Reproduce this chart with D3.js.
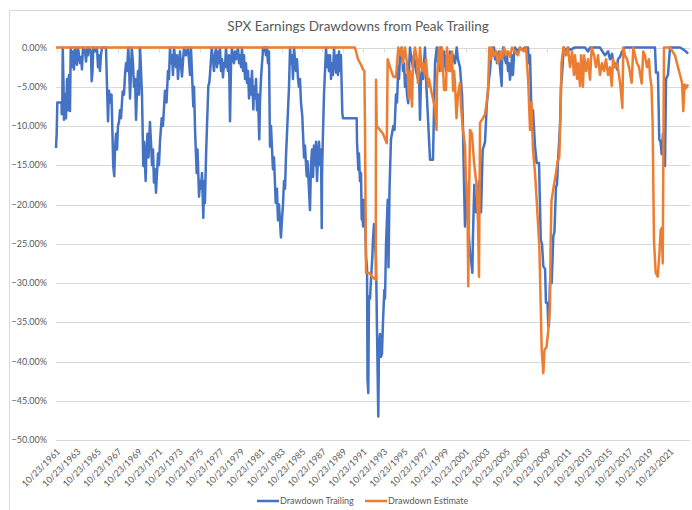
<!DOCTYPE html>
<html>
<head>
<meta charset="utf-8">
<script src="https://cdnjs.cloudflare.com/ajax/libs/d3/7.8.5/d3.min.js"></script>
<style>
  body { margin: 0; background: #fff; }
  svg { display: block; font-family: Lato, "Open Sans", sans-serif; }
</style>
</head>
<body>
<div id="chart"></div>
<script>
// values: [decimal year, drawdown %]
var trailing = [
  [1961.75,-12.8],[1961.82,-10.9],[1961.88,-7.0],[1962.29,-7.0],[1962.31,-8.5],[1962.37,-7.2],[1962.41,0],
  [1962.49,-5],[1962.53,-9.2],[1962.63,-6],[1962.73,-9],[1962.83,-4],[1962.92,-8],[1963.02,-3.5],[1963.12,-8.1],
  [1963.19,0],[1963.32,-2.5],[1963.41,-0.5],[1963.51,-2.8],[1963.61,0],[1963.71,-1.5],[1963.80,-2.2],[1963.90,0],
  [1964.00,-1],[1964.10,-2],[1964.20,-1.2],[1964.29,-2.8],[1964.39,0],[1964.59,-0.5],[1964.69,-1.8],[1964.78,0],
  [1964.88,-1],[1964.98,0],[1965.17,-0.5],[1965.24,-4.3],[1965.32,-3],[1965.40,0],[1965.57,-0.5],[1965.76,0],
  [1965.86,-2.5],[1965.96,-1],[1966.05,-3.0],[1966.15,-1],[1966.25,0],[1966.64,0],[1966.74,-4.9],[1966.84,-9.4],
  [1966.93,-5.5],[1967.03,-7],[1967.18,-6],[1967.35,-15.1],[1967.45,-16.4],[1967.52,-13],[1967.62,-11],[1967.72,-13],
  [1967.81,-10],[1967.91,-9.5],[1968.01,-8],[1968.11,-9],[1968.27,-5.6],[1968.40,-6],[1968.50,-3.5],[1968.60,-2],
  [1968.70,-3],[1968.82,0],[1968.89,-2],[1968.99,-6.5],[1969.09,-3],[1969.16,0],[1969.28,-2],[1969.38,-5],
  [1969.48,-4],[1969.58,-9.2],[1969.68,-5],[1969.77,-3],[1969.87,-6],[1969.97,0],[1970.07,-3],[1970.16,-6],
  [1970.29,-15.1],[1970.36,-12],[1970.52,-17],[1970.60,-13],[1970.70,-11],[1970.80,-14],[1970.94,-9.5],[1971.04,-12],
  [1971.14,-15],[1971.24,-13],[1971.33,-17.2],[1971.43,-15.5],[1971.53,-18.5],[1971.63,-16],[1971.73,-13.5],[1971.82,-15],
  [1971.92,-12],[1972.09,-9],[1972.21,-10],[1972.41,-5.5],[1972.56,-7],[1972.70,-3],[1972.80,-4],[1972.90,0],
  [1973.00,-2],[1973.10,-1],[1973.19,-3.5],[1973.29,0],[1973.49,-2.5],[1973.58,-1],[1973.68,-4],[1973.78,-2],
  [1973.88,-0.5],[1974.07,-3.7],[1974.17,-1.8],[1974.27,0],[1974.46,-1],[1974.66,0],[1974.86,-3.5],[1974.95,0],
  [1975.18,-7.5],[1975.25,-5],[1975.35,-10.5],[1975.51,-16],[1975.59,-13],[1975.74,-19],[1975.83,-17],[1975.93,-18],
  [1976.03,-16],[1976.16,-21.7],[1976.23,-17],[1976.32,-19.8],[1976.42,-14],[1976.52,-10],[1976.65,-4.9],[1976.74,-4.5],
  [1976.81,-3.5],[1976.98,0],[1977.10,-1.5],[1977.20,-3],[1977.30,-1],[1977.40,0],[1977.50,-2.5],[1977.59,-0.5],
  [1977.69,-2],[1977.79,0],[1977.89,-3],[1977.99,-1.5],[1978.08,-3.8],[1978.18,-2],[1978.28,-2.5],[1978.38,0],
  [1978.47,-2],[1978.57,-3],[1978.67,-1],[1978.77,-9.4],[1978.87,-2],[1978.96,0],[1979.06,-1.5],[1979.16,-2],
  [1979.26,-0.5],[1979.36,-1.5],[1979.55,0],[1979.65,-2],[1979.75,-1],[1979.85,-2.5],[1979.94,0],[1980.04,-3],
  [1980.14,-1],[1980.24,-4],[1980.33,-2],[1980.43,-4.5],[1980.53,-3],[1980.63,-6.5],[1980.72,-4],[1980.82,-6],
  [1980.92,-3],[1981.05,-7.9],[1981.12,-5],[1981.21,-6.5],[1981.31,-4],[1981.41,-8],[1981.51,-6],[1981.63,-11.7],
  [1981.70,-7],[1981.80,-4],[1981.90,-2],[1982.02,0],[1982.19,0],[1982.29,-1],[1982.39,0],[1982.48,-2],
  [1982.58,-0.5],[1982.68,-12.6],[1982.78,-10],[1982.88,-13],[1982.97,-15.5],[1983.07,-14],[1983.24,-19.8],[1983.36,-18],
  [1983.46,-22],[1983.56,-20],[1983.75,-24.2],[1983.85,-22],[1983.95,-20],[1984.05,-17],[1984.15,-18],[1984.24,-14],
  [1984.34,-11],[1984.44,-8],[1984.54,-5],[1984.64,0],[1984.73,-2],[1984.83,-1],[1984.93,-4],[1985.03,0],
  [1985.22,-3],[1985.32,-1.5],[1985.42,-4],[1985.51,-5],[1985.61,-4],[1985.71,-7],[1985.84,-8.8],[1985.91,-11],
  [1986.01,-14],[1986.10,-12.5],[1986.27,-16.4],[1986.35,-14.5],[1986.45,-17],[1986.59,-20.7],[1986.69,-15],[1986.79,-13],
  [1986.89,-16.5],[1986.98,-12.5],[1987.08,-15],[1987.18,-12],[1987.28,-17],[1987.37,-14],[1987.47,-12],[1987.57,-15],
  [1987.67,-13],[1987.74,-23],[1987.77,-16],[1987.86,-11],[1987.96,-6],[1988.06,-3],[1988.16,0],[1988.25,-2.5],
  [1988.35,-1],[1988.45,-3],[1988.55,-1],[1988.65,-4],[1988.74,-2],[1988.84,-3.5],[1988.94,0],[1989.04,-2],
  [1989.14,-3.2],[1989.23,-1],[1989.33,-3.5],[1989.43,-0.5],[1989.53,-3],[1989.62,-1],[1989.75,-8.3],[1989.82,-9.0],
  [1991.16,-9.0],[1991.19,-12],[1991.32,-15.6],[1991.38,-13.5],[1991.48,-17],[1991.58,-16],[1991.65,-21.9],[1991.68,-19.4],
  [1991.78,-22.8],[1991.88,-19.4],[1991.97,-21],[1992.07,-26.6],[1992.17,-28],[1992.22,-42.3],[1992.29,-44],[1992.36,-31.7],
  [1992.46,-32],[1992.56,-29.5],[1992.69,-26.6],[1992.75,-24.5],[1992.85,-22.5],[1992.95,-25],[1993.05,-27],[1993.15,-36.4],
  [1993.27,-47],[1993.34,-38],[1993.44,-36.5],[1993.54,-39.4],[1993.63,-39],[1993.73,-35],[1993.86,-30.9],[1993.93,-32],
  [1994.03,-25],[1994.19,-19.4],[1994.27,-28],[1994.37,-18],[1994.51,-11.7],[1994.61,-11],[1994.74,-10],[1994.86,-10.5],
  [1995.00,-6],[1995.10,-7],[1995.23,-2.4],[1995.30,-4],[1995.39,-1],[1995.56,0],[1995.69,-3],[1995.79,-2],
  [1995.88,-5],[1995.98,-3.5],[1996.08,-6],[1996.20,-7.1],[1996.27,-3],[1996.37,0],[1996.47,-1],[1996.66,-2.5],
  [1996.76,-1],[1996.96,-3],[1997.15,-4],[1997.25,-3],[1997.35,-9.2],[1997.45,-4],[1997.54,-3],[1997.64,-4],
  [1997.74,-2],[1997.84,0],[1997.94,-4],[1998.33,-14.3],[1998.62,-14.3],[1998.72,-8],[1998.82,-2],[1998.99,0],
  [1999.11,-2],[1999.21,-1],[1999.31,-3],[1999.41,0],[1999.60,-2.5],[1999.70,-0.5],[1999.89,-3],[1999.99,-1],
  [2000.19,-2.5],[2000.28,-0.5],[2000.48,-2],[2000.58,-1],[2000.77,-2],[2000.94,0],[2001.06,-1.5],[2001.26,-2.5],
  [2001.46,-6],[2001.55,-10],[2001.65,-17],[2001.75,-22.8],[2001.85,-17],[2001.95,-20],[2002.04,-22],[2002.24,-26.2],
  [2002.34,-27],[2002.47,-28.7],[2002.53,-24],[2002.66,-17.5],[2002.73,-20],[2002.83,-21],[2002.93,-20.5],[2003.02,-18],
  [2003.12,-17],[2003.22,-18],[2003.32,-21],[2003.48,-13],[2003.61,-12.5],[2003.71,-12],[2003.87,-7.5],[2004.00,-5.5],
  [2004.10,-4],[2004.20,-3],[2004.36,0],[2004.49,-1],[2004.59,0],[2004.69,-1.5],[2004.78,-0.5],[2004.88,-2],
  [2004.98,-1],[2005.08,-0.5],[2005.17,-2.5],[2005.34,-4.9],[2005.37,-2],[2005.47,0],[2005.66,-1.5],[2005.76,-2],
  [2005.86,-1],[2005.96,-3],[2006.05,-2],[2006.15,-4.1],[2006.25,-3],[2006.35,-1],[2006.44,-3.5],[2006.54,-1],
  [2006.64,0],[2006.93,-0.5],[2007.13,0],[2007.32,-0.3],[2007.62,0],[2007.91,0],[2008.01,-2],[2008.11,-1],
  [2008.27,-9.6],[2008.40,-8],[2008.60,-12.6],[2008.76,-14.7],[2008.99,-14.7],[2009.16,-24.5],[2009.28,-25],[2009.41,-27.9],
  [2009.58,-28.2],[2009.67,-32.5],[2009.82,-32.5],[2009.90,-35.5],[2009.96,-35.5],[2010.06,-30],[2010.23,-30],[2010.31,-27],
  [2010.39,-24],[2010.50,-23.5],[2010.65,-17.7],[2010.75,-17.5],[2010.84,-14.7],[2010.97,-11.7],[2011.04,-10],[2011.14,-4.9],
  [2011.24,-3.5],[2011.33,-1.5],[2011.43,0],[2011.63,-0.5],[2011.82,0],[2012.02,-0.3],[2012.51,0],[2013.00,0],
  [2013.49,0],[2013.78,-0.5],[2013.98,0],[2014.95,0],[2015.44,-1],[2015.74,-0.5],[2015.93,-1.5],[2016.13,-0.8],
  [2016.32,-2.5],[2016.52,-2],[2016.62,-2.8],[2016.71,-1.5],[2016.91,-1.2],[2017.11,-0.5],[2017.40,0],[2020.33,0],
  [2020.43,-3.2],[2020.62,-3.2],[2020.75,-11.7],[2020.87,-12],[2020.99,-13.6],[2021.11,-11],[2021.31,-15.1],[2021.41,-4],
  [2021.60,-3.5],[2021.80,0],[2022.78,0],[2023.17,-0.3],[2023.44,-0.6],[2023.56,-0.8]
];

var estimate = [
  [1961.75,0],[1990.99,0],[1991.29,-1.5],[1991.58,-2.2],[1991.78,-2.8],[1991.91,-3.0],[1991.97,-10],[1992.07,-28.7],
  [1992.36,-28.7],[1992.66,-29.2],[1993.02,-29.6],[1993.05,-4.1],[1993.12,-10],[1993.44,-10.5],[1993.73,-11],[1994.10,-12.2],
  [1994.19,-1.5],[1994.42,-2.5],[1994.74,-3.7],[1995.00,-3.8],[1995.23,0],[1995.39,-1],[1995.56,0],[1995.69,-2],
  [1995.88,0],[1996.08,-2],[1996.27,-6.5],[1996.37,-3],[1996.57,-7.5],[1996.66,-2],[1996.86,0],[1997.05,-1.5],
  [1997.15,-4.5],[1997.25,-2.5],[1997.35,0],[1997.54,-3],[1997.64,-2],[1997.84,-3.5],[1997.94,-1.5],[1998.13,-5],
  [1998.23,-4],[1998.49,-5.8],[1998.62,-6.5],[1998.82,-7.9],[1998.97,-10.5],[1999.01,-4],[1999.21,0],[1999.41,-3],
  [1999.50,0],[1999.70,-5.4],[1999.89,-5.4],[1999.99,0],[2000.19,-3],[2000.28,-1],[2000.38,-3],[2000.48,-0.5],
  [2000.58,-5.5],[2000.68,-3],[2000.77,-4.5],[2000.92,-9],[2001.06,-6],[2001.26,-4.5],[2001.36,-7.5],[2001.55,-10.5],
  [2001.75,-12.5],[2001.85,-17],[2001.99,-20],[2002.07,-30.4],[2002.14,-20],[2002.24,-10.5],[2002.43,-11],[2002.63,-14.5],
  [2002.89,-17.7],[2003.02,-22],[2003.12,-29.2],[2003.22,-9.6],[2003.51,-9],[2003.71,-8.5],[2003.87,-7],[2004.00,-5.5],
  [2004.13,0],[2004.30,-1.5],[2004.39,0],[2004.59,-1],[2004.78,-0.5],[2004.98,-2],[2005.17,-0.5],[2005.37,-1.5],
  [2005.57,0],[2005.76,-1],[2005.96,-0.5],[2006.15,-1.2],[2006.35,0],[2006.64,-0.5],[2006.93,-1],[2007.13,0],
  [2007.52,-0.5],[2007.72,0],[2007.94,-4.5],[2008.11,-10.5],[2008.25,-7],[2008.40,-13],[2008.60,-16],[2008.74,-19],
  [2009.02,-25.3],[2009.16,-33],[2009.25,-38.5],[2009.41,-41.5],[2009.53,-38.5],[2009.72,-38.2],[2009.90,-36],[2010.06,-33],
  [2010.13,-24.5],[2010.21,-19.5],[2010.45,-17.5],[2010.65,-16],[2010.80,-14.5],[2010.97,-14],[2011.11,-7.5],[2011.19,-2],
  [2011.37,0],[2011.63,-1],[2011.82,0],[2012.02,-2.5],[2012.22,-0.5],[2012.41,-3.5],[2012.51,-1],[2012.71,-4],
  [2012.80,-2],[2013.00,-4.9],[2013.10,-1],[2013.29,-5],[2013.39,-1],[2013.59,-3],[2013.78,-1.5],[2013.98,-4.1],
  [2014.14,0],[2014.37,-1],[2014.56,-2.5],[2014.76,-1],[2014.95,-3.5],[2015.15,-2],[2015.35,-3],[2015.54,-1.5],
  [2015.74,-3.5],[2015.93,-2.5],[2016.10,-4.9],[2016.23,-1.5],[2016.42,-2.5],[2016.62,-2],[2016.81,-3.5],[2016.96,-5],
  [2017.14,-7.7],[2017.23,0],[2017.40,-1],[2017.60,-1.5],[2017.79,-2.5],[2018.05,-4.5],[2018.21,0],[2018.38,-1],
  [2018.57,-2],[2018.77,-2.5],[2019.03,-4.6],[2019.19,-0.5],[2019.35,-1],[2019.55,-2.5],[2019.74,-1.5],[2019.84,-3.5],
  [2019.99,-5],[2020.10,-9.6],[2020.23,-24.5],[2020.40,-28.7],[2020.60,-29.2],[2020.75,-26.5],[2020.89,-23.2],[2020.99,-23],
  [2021.09,-27.5],[2021.21,0],[2021.80,0],[2022.29,-1],[2022.58,-2.5],[2022.78,-3.5],[2022.98,-4.5],[2023.10,-8.1],
  [2023.22,-4.7],[2023.37,-5.2],[2023.56,-4.7]
];

var tickLabels = ["10/23/1961","10/23/1963","10/23/1965","10/23/1967","10/23/1969","10/23/1971","10/23/1973",
  "10/23/1975","10/23/1977","10/23/1979","10/23/1981","10/23/1983","10/23/1985","10/23/1987","10/23/1989",
  "10/23/1991","10/23/1993","10/23/1995","10/23/1997","10/23/1999","10/23/2001","10/23/2003","10/23/2005",
  "10/23/2007","10/23/2009","10/23/2011","10/23/2013","10/23/2015","10/23/2017","10/23/2019","10/23/2021"];
var yTicks = [0,-5,-10,-15,-20,-25,-30,-35,-40,-45,-50];
var seriesNames = ["Drawdown Trailing","Drawdown Estimate"];
var seriesColors = ["#4472c4","#ed7d31"];

var width = 692, height = 510;
var svg = d3.select("#chart").append("svg").attr("width", width).attr("height", height);

// chart frame
svg.append("rect").attr("x", 9.5).attr("y", 10.5).attr("width", 720).attr("height", 520)
    .attr("fill", "#fff").attr("stroke", "#d9d9d9");

svg.append("text").attr("x", 358).attr("y", 31).attr("text-anchor", "middle")
    .attr("font-size", 13.5).attr("fill", "#595959").text("SPX Earnings Drawdowns from Peak Trailing");

var x = d3.scaleLinear().domain([1961.81, 2023.56]).range([56.6, 688]);
var y = d3.scaleLinear().domain([-50, 0]).range([440, 47.5]);

function decYear(s) {
  var d = d3.timeParse("%m/%d/%Y")(s);
  var start = new Date(d.getFullYear(), 0, 1);
  return d.getFullYear() + (d - start) / (365 * 864e5);
}

// gridlines
svg.append("g").selectAll("line").data(yTicks.slice(1)).enter().append("line")
    .attr("x1", 56).attr("x2", 690)
    .attr("y1", function(d) { return Math.round(y(d)) + 0.5; })
    .attr("y2", function(d) { return Math.round(y(d)) + 0.5; })
    .attr("stroke", "#d9d9d9");

// y labels
svg.append("g").selectAll("text").data(yTicks).enter().append("text")
    .attr("x", 47).attr("y", function(d) { return y(d); }).attr("dy", "0.35em")
    .attr("text-anchor", "end").attr("font-size", 9).attr("fill", "#595959")
    .text(function(d) { return d3.format(".2f")(d) + "%"; });

// horizontal axis sits at 0 with tick marks there
var axisY = Math.round(y(0)) + 0.5;
svg.append("line").attr("x1", 56).attr("x2", 690).attr("y1", axisY).attr("y2", axisY).attr("stroke", "#d9d9d9");
svg.append("g").selectAll("line").data(tickLabels).enter().append("line")
    .attr("x1", function(d) { return Math.round(x(decYear(d))) + 0.5; })
    .attr("x2", function(d) { return Math.round(x(decYear(d))) + 0.5; })
    .attr("y1", axisY).attr("y2", axisY + 4).attr("stroke", "#d9d9d9");

// x labels, low position
svg.append("g").selectAll("text").data(tickLabels).enter().append("text")
    .attr("transform", function(d) { return "translate(" + (x(decYear(d)) + 2) + ",450) rotate(-45)"; })
    .attr("text-anchor", "end").attr("dy", "0.35em")
    .attr("font-size", 9).attr("fill", "#595959")
    .text(function(d) { return d; });

var line = d3.line()
    .x(function(d) { return x(d[0]); })
    .y(function(d) { return y(d[1]); });

[trailing, estimate].forEach(function(s, i) {
  svg.append("path").datum(s)
      .attr("d", line)
      .attr("fill", "none")
      .attr("stroke", seriesColors[i])
      .attr("stroke-width", 2.5)
      .attr("stroke-linejoin", "round");
});

// legend
var legendX = [257, 365];
seriesNames.forEach(function(name, i) {
  var g = svg.append("g").attr("transform", "translate(" + legendX[i] + ",501)");
  g.append("line").attr("x1", 0).attr("x2", 22).attr("stroke", seriesColors[i]).attr("stroke-width", 2.5);
  g.append("text").attr("x", 23).attr("dy", "0.35em").attr("font-size", 9).attr("fill", "#595959").text(name);
});
</script>
</body>
</html>
